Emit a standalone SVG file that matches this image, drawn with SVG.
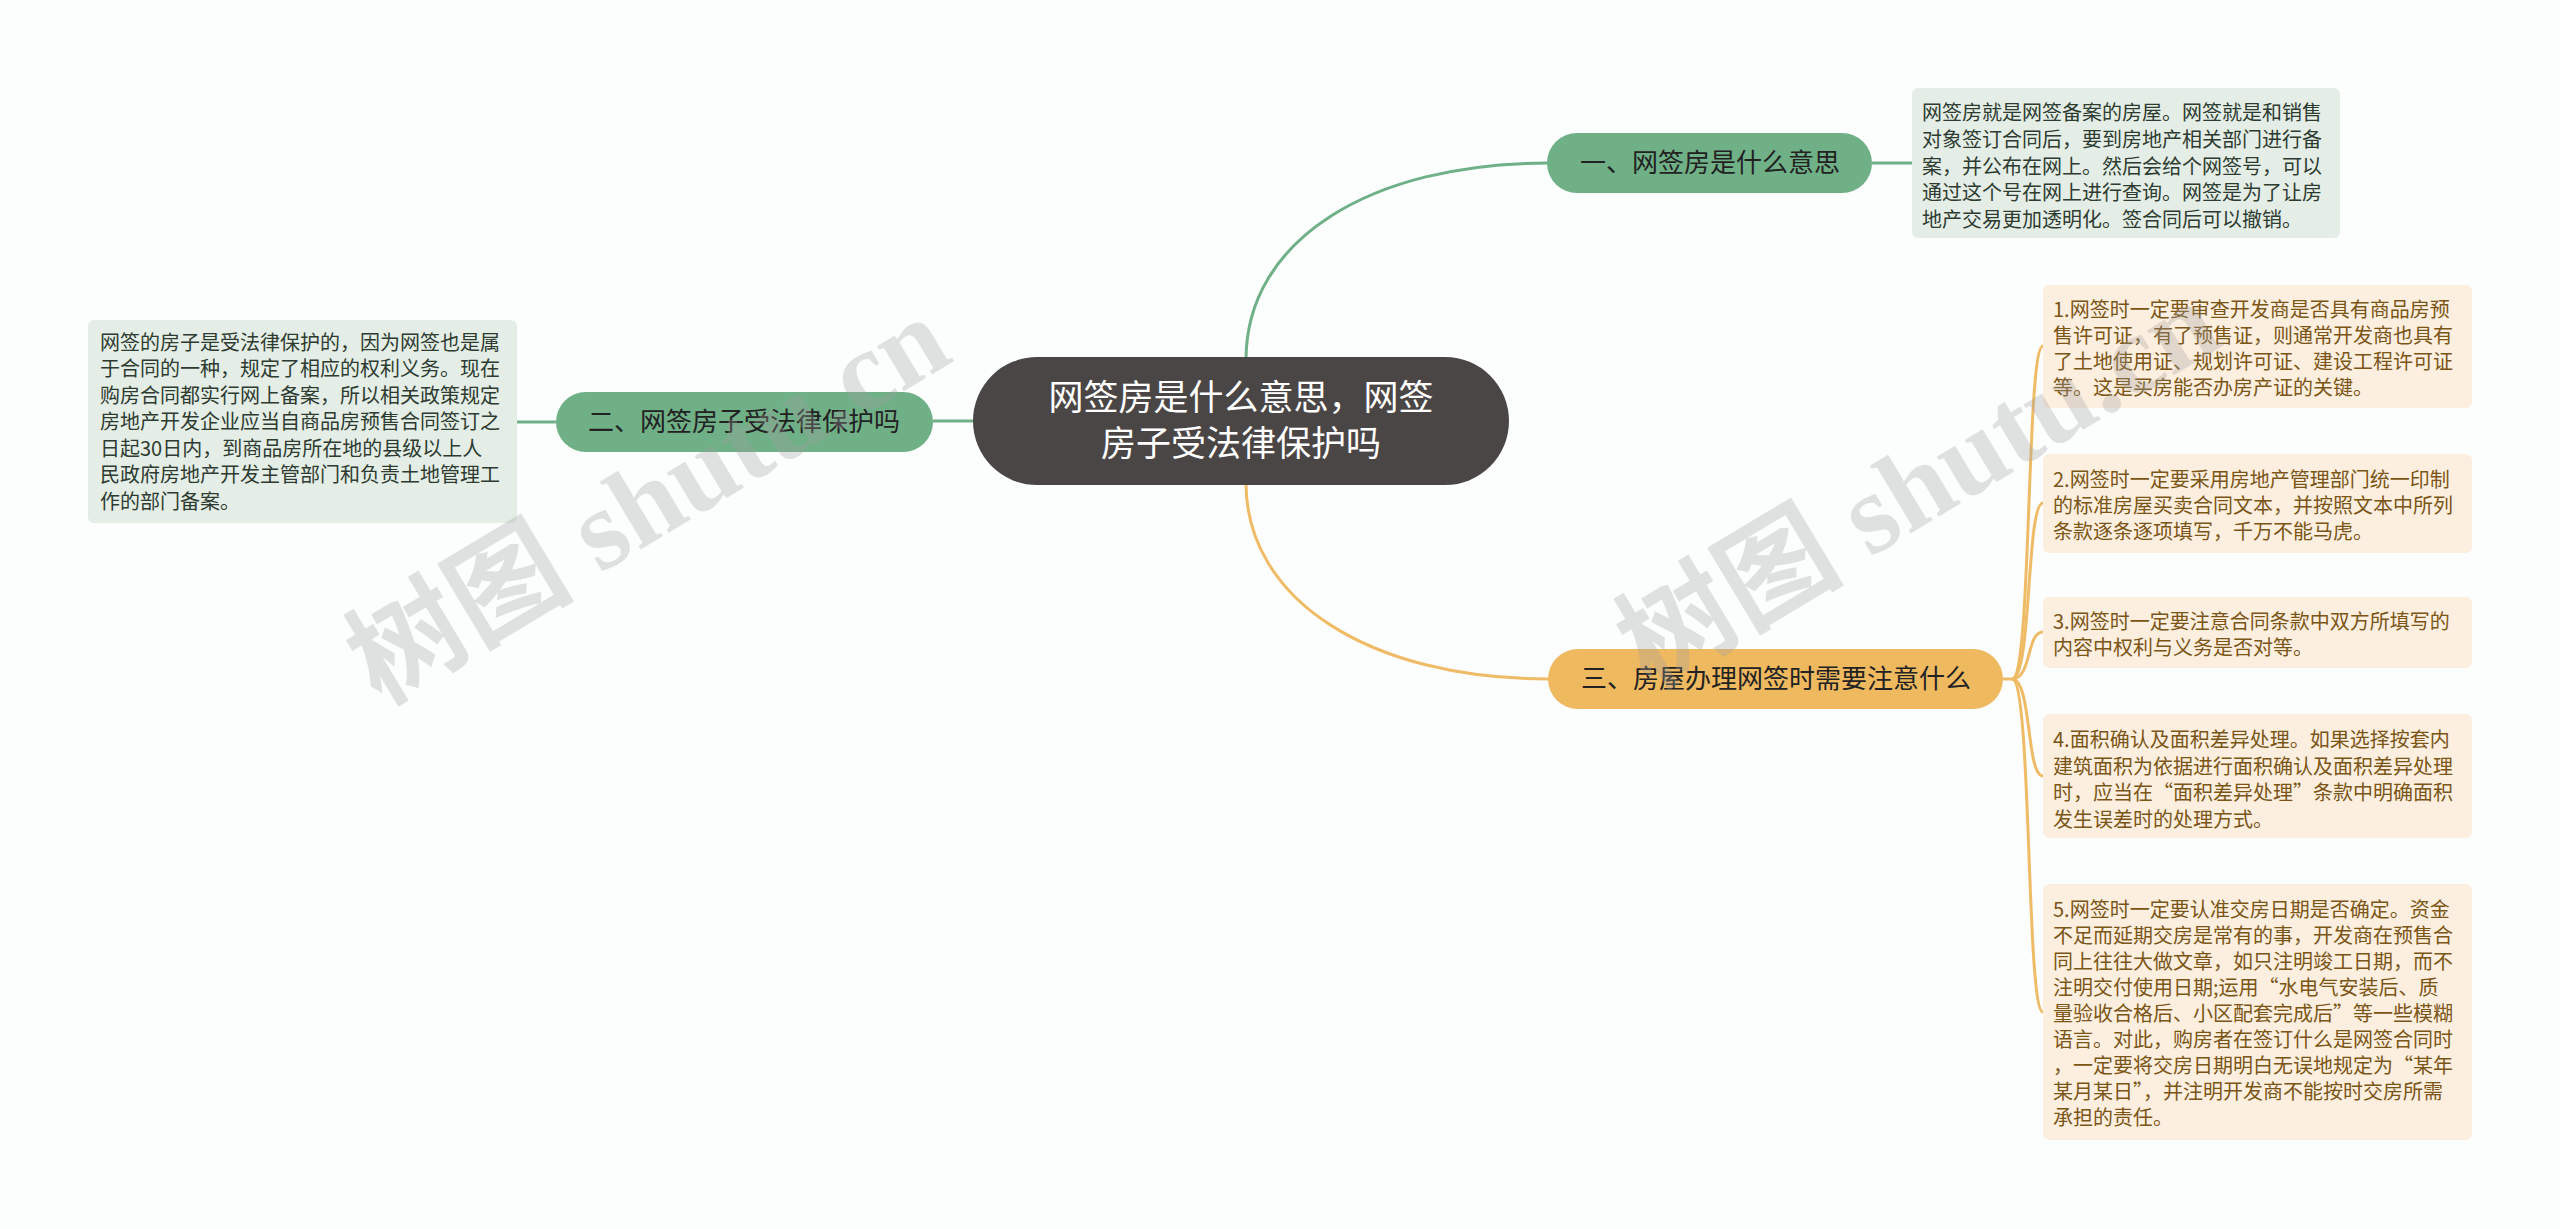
<svg xmlns="http://www.w3.org/2000/svg" width="2560" height="1229" viewBox="0 0 2560 1229">
<style>
.bg{fill:#fcfefe}
.cjk{font-family:"Noto Sans CJK SC","Noto Sans",sans-serif}
.root rect{fill:#4b4646}
.root text{fill:#ffffff;font-size:35px;text-anchor:middle}
.g rect{fill:#70b087}
.o rect{fill:#efb960}
.br text{fill:#222222;font-size:26px;text-anchor:middle}
.gt rect{fill:#e4eee6}
.gt text{fill:#2e3b31;font-size:20px}
.ot rect{fill:#fdefdf}
.ot text{fill:#7a5516;font-size:20px}
.lg{fill:none;stroke:#70b087;stroke-width:3}
.lo{fill:none;stroke:#efbb66;stroke-width:3}
.wm{font-family:"Liberation Serif","Noto Sans CJK SC",serif;font-weight:bold;font-size:114px;fill:#a0a0a0;opacity:0.3}
</style>
<rect class="bg" x="0" y="0" width="2560" height="1229"/>
<g id="connectors">
<path class="lg" d="M1246,360 C1246,240 1370,163 1548,163"/>
<path class="lo" d="M1246,483 C1246,600 1370,679 1548,679"/>
<path class="lg" d="M933,421 L975,421"/>
<path class="lg" d="M517,422 L556,422"/>
<path class="lg" d="M1872,163 L1912,163"/>
<path class="lo" d="M2003,679 L2014,679"/>
<path class="lo" d="M2012,679 C2032,679 2026,346 2043,346"/>
<path class="lo" d="M2012,679 C2032,679 2026,503 2043,503"/>
<path class="lo" d="M2012,679 C2032,679 2026,632 2043,632"/>
<path class="lo" d="M2012,679 C2032,679 2026,776 2043,776"/>
<path class="lo" d="M2012,679 C2032,679 2026,1012 2043,1012"/>
</g>
<g id="root" class="root cjk">
<rect x="973" y="357" width="536" height="128" rx="64"/>
<text x="1241" y="410">网签房是什么意思，网签</text>
<text x="1241" y="456">房子受法律保护吗</text>
</g>
<g id="b1" class="g br cjk">
<rect x="1547" y="133" width="325" height="60" rx="30"/>
<text x="1710" y="172">一、网签房是什么意思</text>
</g>
<g id="b2" class="g br cjk">
<rect x="556" y="392" width="377" height="60" rx="30"/>
<text x="744" y="431">二、网签房子受法律保护吗</text>
</g>
<g id="b3" class="o br cjk">
<rect x="1548" y="649" width="455" height="60" rx="30"/>
<text x="1776" y="688">三、房屋办理网签时需要注意什么</text>
</g>
<g id="t1" class="gt cjk">
<rect x="1912" y="88" width="428" height="150" rx="6"/>
<text x="1922" y="120">网签房就是网签备案的房屋。网签就是和销售</text>
<text x="1922" y="147">对象签订合同后，要到房地产相关部门进行备</text>
<text x="1922" y="174">案，并公布在网上。然后会给个网签号，可以</text>
<text x="1922" y="200">通过这个号在网上进行查询。网签是为了让房</text>
<text x="1922" y="227">地产交易更加透明化。签合同后可以撤销。</text>
</g>
<g id="t2" class="gt cjk">
<rect x="88" y="320" width="429" height="203" rx="6"/>
<text x="100" y="350">网签的房子是受法律保护的，因为网签也是属</text>
<text x="100" y="376">于合同的一种，规定了相应的权利义务。现在</text>
<text x="100" y="403">购房合同都实行网上备案，所以相关政策规定</text>
<text x="100" y="429">房地产开发企业应当自商品房预售合同签订之</text>
<text x="100" y="456">日起30日内，到商品房所在地的县级以上人</text>
<text x="100" y="482">民政府房地产开发主管部门和负责土地管理工</text>
<text x="100" y="509">作的部门备案。</text>
</g>
<g id="c1" class="ot cjk">
<rect x="2043" y="285" width="429" height="123" rx="6"/>
<text x="2053" y="317">1.网签时一定要审查开发商是否具有商品房预</text>
<text x="2053" y="343">售许可证，有了预售证，则通常开发商也具有</text>
<text x="2053" y="369">了土地使用证、规划许可证、建设工程许可证</text>
<text x="2053" y="395">等。这是买房能否办房产证的关键。</text>
</g>
<g id="c2" class="ot cjk">
<rect x="2043" y="454" width="429" height="99" rx="6"/>
<text x="2053" y="487">2.网签时一定要采用房地产管理部门统一印制</text>
<text x="2053" y="513">的标准房屋买卖合同文本，并按照文本中所列</text>
<text x="2053" y="539">条款逐条逐项填写，千万不能马虎。</text>
</g>
<g id="c3" class="ot cjk">
<rect x="2043" y="597" width="429" height="71" rx="6"/>
<text x="2053" y="629">3.网签时一定要注意合同条款中双方所填写的</text>
<text x="2053" y="655">内容中权利与义务是否对等。</text>
</g>
<g id="c4" class="ot cjk">
<rect x="2043" y="714" width="429" height="124" rx="6"/>
<text x="2053" y="747">4.面积确认及面积差异处理。如果选择按套内</text>
<text x="2053" y="774">建筑面积为依据进行面积确认及面积差异处理</text>
<text x="2053" y="800">时，应当在“面积差异处理”条款中明确面积</text>
<text x="2053" y="827">发生误差时的处理方式。</text>
</g>
<g id="c5" class="ot cjk">
<rect x="2043" y="884" width="429" height="256" rx="6"/>
<text x="2053" y="917">5.网签时一定要认准交房日期是否确定。资金</text>
<text x="2053" y="943">不足而延期交房是常有的事，开发商在预售合</text>
<text x="2053" y="969">同上往往大做文章，如只注明竣工日期，而不</text>
<text x="2053" y="995">注明交付使用日期;运用“水电气安装后、质</text>
<text x="2053" y="1021">量验收合格后、小区配套完成后”等一些模糊</text>
<text x="2053" y="1047">语言。对此，购房者在签订什么是网签合同时</text>
<text x="2053" y="1073">，一定要将交房日期明白无误地规定为“某年</text>
<text x="2053" y="1099">某月某日”，并注明开发商不能按时交房所需</text>
<text x="2053" y="1125">承担的责任。</text>
</g>
<g id="watermark">
<text class="wm" transform="translate(380,706) rotate(-31)">树图 shutu.cn</text>
<text class="wm" transform="translate(1650,690) rotate(-31)">树图 shutu.cn</text>
</g>
</svg>
